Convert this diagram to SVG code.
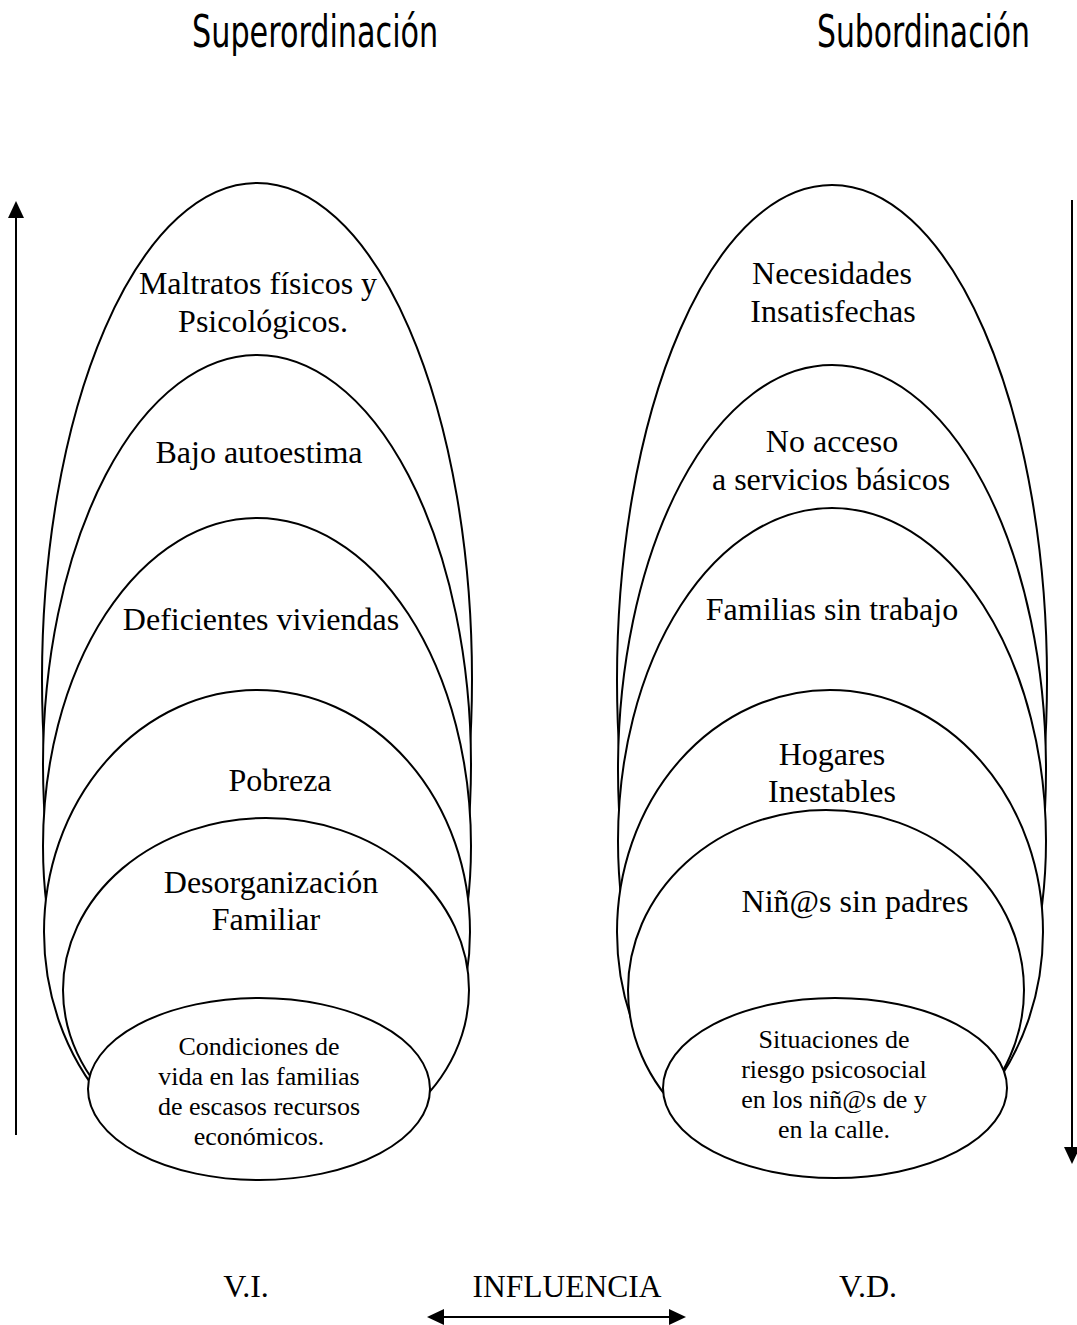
<svg xmlns="http://www.w3.org/2000/svg" width="1077" height="1325" viewBox="0 0 1077 1325">
<style>
.e{fill:#fff;stroke:#000;stroke-width:2}
.t{font-family:"Liberation Serif","Times New Roman",serif;font-size:32px;fill:#000;text-anchor:middle}
.s{font-family:"Liberation Serif","Times New Roman",serif;font-size:26px;fill:#000;text-anchor:middle}
.h{font-family:"DejaVu Sans Condensed","Liberation Sans Narrow","Liberation Sans",sans-serif;font-size:44px;fill:#000}
.c{stroke:#000;stroke-width:2;fill:none}
</style>
<defs>
<marker id="ah" markerUnits="userSpaceOnUse" markerWidth="18" markerHeight="18" viewBox="0 0 18 18" refX="2" refY="9" orient="auto-start-reverse">
<path d="M0,1 L17,9 L0,17 Z" fill="#000"/>
</marker>
</defs>
<g id="titles">
<g transform="translate(192,47) scale(0.76,1)"><text class="h" x="0" y="0" textLength="324" lengthAdjust="spacingAndGlyphs">Superordinación</text></g>
<g transform="translate(817,47) scale(0.75,1)"><text class="h" x="0" y="0" textLength="284" lengthAdjust="spacingAndGlyphs">Subordinación</text></g>
</g>
<g id="left">
<g id="n-maltratos"><ellipse class="e" cx="257" cy="679" rx="215" ry="496"/><text class="t" x="258" y="294">Maltratos físicos y</text><text class="t" x="263" y="332">Psicológicos.</text></g>
<g id="n-bajo"><ellipse class="e" cx="257" cy="765" rx="214" ry="410"/><text class="t" x="259" y="463">Bajo autoestima</text></g>
<g id="n-deficientes"><ellipse class="e" cx="257" cy="846" rx="214" ry="328"/><text class="t" x="261" y="630">Deficientes viviendas</text></g>
<g id="n-pobreza"><ellipse class="e" cx="257" cy="932" rx="213" ry="242"/><text class="t" x="280" y="791">Pobreza</text></g>
<g id="n-desorganizacion"><ellipse class="e" cx="266" cy="990" rx="203" ry="172"/><text class="t" x="271" y="893">Desorganización</text><text class="t" x="266" y="930">Familiar</text></g>
<g id="n-condiciones"><ellipse class="e" cx="259" cy="1089" rx="171" ry="91"/><text class="s" x="259" y="1055">Condiciones de</text><text class="s" x="259" y="1085">vida en las familias</text><text class="s" x="259" y="1115">de escasos recursos</text><text class="s" x="259" y="1145">económicos.</text></g>
</g>
<g id="right">
<g id="n-necesidades"><ellipse class="e" cx="832" cy="680" rx="215" ry="495"/><text class="t" x="832" y="284">Necesidades</text><text class="t" x="833" y="322">Insatisfechas</text></g>
<g id="n-acceso"><ellipse class="e" cx="832" cy="770" rx="214" ry="405"/><text class="t" x="832" y="452">No acceso</text><text class="t" x="831" y="490">a servicios básicos</text></g>
<g id="n-familias"><ellipse class="e" cx="832" cy="841" rx="214" ry="333"/><text class="t" x="832" y="620">Familias sin trabajo</text></g>
<g id="n-hogares"><ellipse class="e" cx="830" cy="932" rx="213" ry="242"/><text class="t" x="832" y="765">Hogares</text><text class="t" x="832" y="802">Inestables</text></g>
<g id="n-ninos"><ellipse class="e" cx="826" cy="990" rx="198" ry="180"/><text class="t" x="855" y="912">Niñ@s sin padres</text></g>
<g id="n-situaciones"><ellipse class="e" cx="835" cy="1088" rx="172" ry="90"/><text class="s" x="834" y="1048">Situaciones de</text><text class="s" x="834" y="1078">riesgo psicosocial</text><text class="s" x="834" y="1108">en los niñ@s de y</text><text class="s" x="834" y="1138">en la calle.</text></g>
</g>
<g id="connectors">
<line class="c" x1="16" y1="1135" x2="16" y2="216" marker-end="url(#ah)"/>
<line class="c" x1="1072" y1="200" x2="1072" y2="1149" marker-end="url(#ah)"/>
<line class="c" x1="442" y1="1317" x2="671" y2="1317" marker-start="url(#ah)" marker-end="url(#ah)"/>
</g>
<g id="labels">
<text class="t" x="246" y="1297">V.I.</text>
<text class="t" x="567" y="1297" textLength="189" lengthAdjust="spacingAndGlyphs">INFLUENCIA</text>
<text class="t" x="868" y="1297">V.D.</text>
</g>
</svg>
